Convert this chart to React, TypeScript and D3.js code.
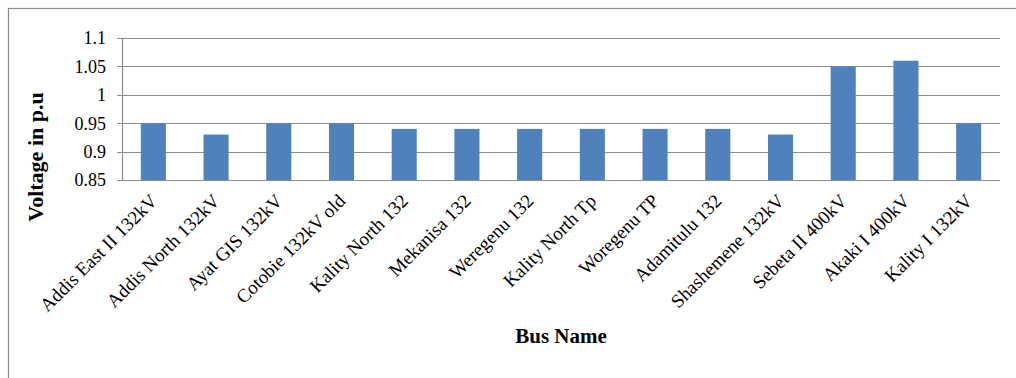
import React from "react";
import * as d3 from "d3";

const busNames: string[] = [
  "Addis East II 132kV",
  "Addis North 132kV",
  "Ayat GIS 132kV",
  "Cotobie 132kV old",
  "Kality North 132",
  "Mekanisa 132",
  "Weregenu 132",
  "Kality North Tp",
  "Woregenu TP",
  "Adamitulu 132",
  "Shashemene 132kV",
  "Sebeta II 400kV",
  "Akaki I 400kV",
  "Kality I 132kV",
];

const voltages: number[] = [
  0.95, 0.93, 0.95, 0.95, 0.94, 0.94, 0.94, 0.94, 0.94, 0.94, 0.93, 1.05, 1.06, 0.95,
];

const yTicks: number[] = [0.85, 0.9, 0.95, 1, 1.05, 1.1];
const yTickLabels: string[] = ["0.85", "0.9", "0.95", "1", "1.05", "1.1"];

const W = 1016;
const H = 378;
const plot = { left: 122, right: 1000, top: 38, bottom: 180 };
const FONT = "'Liberation Serif', 'Times New Roman', serif";
const GRID = "#8c8c8c";
const BAR = "#4f81bd";

export default function App() {
  const x = d3
    .scaleBand<string>()
    .domain(busNames)
    .range([plot.left, plot.right])
    .paddingInner(0.6)
    .paddingOuter(0.3);
  const y = d3.scaleLinear().domain([0.85, 1.1]).range([plot.bottom, plot.top]);

  return (
    <div style={{ position: "absolute", left: 0, top: 0, width: W, height: H }}>
      <svg width={W} height={H} style={{ display: "block", background: "#fff" }}>
        {/* chart frame */}
        <rect x={8.5} y={8.5} width={W + 20} height={H + 20} fill="#fff" stroke={GRID} strokeWidth={1.2} />

        {/* horizontal gridlines with small outside ticks */}
        {yTicks.map((t) => (
          <line
            key={"g" + t}
            x1={plot.left - 5}
            x2={plot.right}
            y1={Math.round(y(t)) + 0.5}
            y2={Math.round(y(t)) + 0.5}
            stroke={GRID}
            strokeWidth={1.2}
          />
        ))}
        <line
          x1={plot.left + 0.5}
          x2={plot.left + 0.5}
          y1={plot.top}
          y2={plot.bottom}
          stroke={GRID}
          strokeWidth={1.2}
        />

        {/* y tick labels */}
        {yTicks.map((t, i) => (
          <text
            key={"l" + t}
            x={106}
            y={y(t)}
            dy="0.35em"
            textAnchor="end"
            fontFamily={FONT}
            fontSize={18}
            fill="#000"
          >
            {yTickLabels[i]}
          </text>
        ))}

        {/* bars */}
        {busNames.map((name, i) => (
          <rect
            key={name}
            x={x(name)}
            y={y(voltages[i])}
            width={x.bandwidth()}
            height={y(0.85) - y(voltages[i])}
            fill={BAR}
          />
        ))}

        {/* category labels */}
        {busNames.map((name) => {
          const cx = (x(name) as number) + x.bandwidth() / 2;
          return (
            <text
              key={"c" + name}
              transform={`translate(${cx + 5},${202}) rotate(-45)`}
              textAnchor="end"
              fontFamily={FONT}
              fontSize={19}
              fill="#000"
            >
              {name}
            </text>
          );
        })}

        {/* axis titles */}
        <text
          transform={`translate(43,157) rotate(-90)`}
          textAnchor="middle"
          fontFamily={FONT}
          fontSize={22}
          fontWeight="bold"
          fill="#000"
        >
          Voltage in p.u
        </text>
        <text
          x={561}
          y={343}
          textAnchor="middle"
          fontFamily={FONT}
          fontSize={21}
          fontWeight="bold"
          fill="#000"
        >
          Bus Name
        </text>
      </svg>
    </div>
  );
}
